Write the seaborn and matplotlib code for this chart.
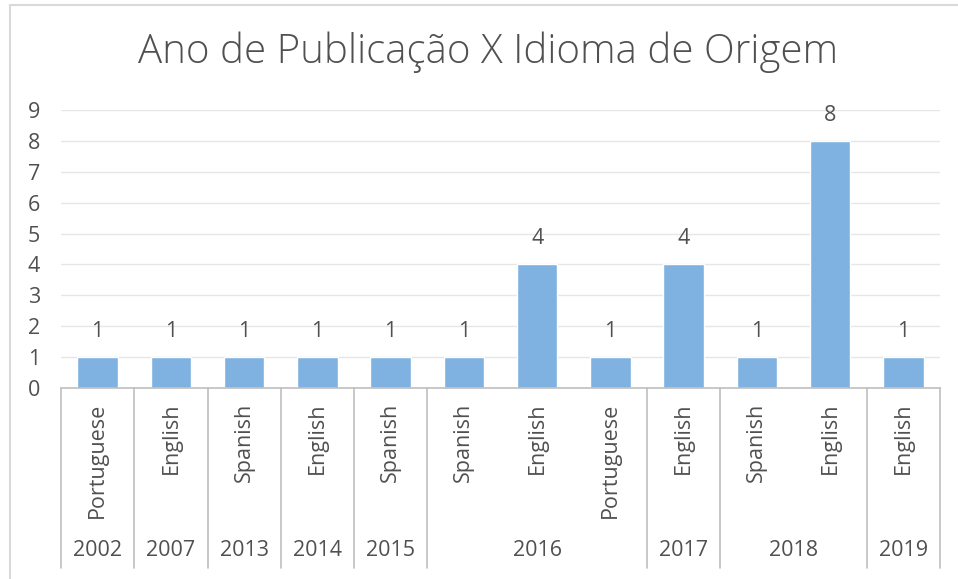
import matplotlib
matplotlib.use("Agg")
import matplotlib.pyplot as plt
import matplotlib.transforms as mtransforms
from matplotlib.lines import Line2D
import seaborn as sns
import pandas as pd

years = ["2002", "2007", "2013", "2014", "2015", "2016", "2016", "2016", "2017", "2018", "2018", "2019"]
languages = ["Portuguese", "English", "Spanish", "English", "Spanish", "Spanish", "English",
             "Portuguese", "English", "Spanish", "English", "English"]
counts = [1, 1, 1, 1, 1, 1, 4, 1, 4, 1, 8, 1]
title = "Ano de Publicação X Idioma de Origem"

sns.set_theme(style="white")
plt.rcParams["font.family"] = ["Open Sans", "DejaVu Sans"]

TXT = "#505050"
GRID = "#E6E6E6"
SEP = "#BFBFBF"
BAR = "#7FB2E0"
FS = 15.5

df = pd.DataFrame({"key": [f"{y}-{l}-{i}" for i, (y, l) in enumerate(zip(years, languages))],
                   "year": years, "lang": languages, "count": counts})

fig = plt.figure(figsize=(9.58, 5.79), dpi=100)
ax = fig.add_axes([61 / 958, 1 - 388 / 579, (940 - 61) / 958, (388 - 110) / 579])

sns.barplot(data=df, x="key", y="count", color=BAR, saturation=1, width=0.55, ax=ax, zorder=2)

ax.set_ylim(0, 9)
ax.set_xlim(-0.5, len(counts) - 0.5)
ax.set_yticks(range(0, 10))
ax.tick_params(axis="y", labelsize=FS, labelcolor=TXT, length=0, pad=15)
ax.set_xticks([])
ax.set_xlabel("")
ax.set_ylabel("")
ax.yaxis.grid(True, color=GRID, linewidth=1, zorder=0)
ax.set_axisbelow(True)
for s in ["top", "right", "left"]:
    ax.spines[s].set_visible(False)
ax.spines["bottom"].set_color(SEP)
ax.spines["bottom"].set_linewidth(1.2)

for c in ax.containers:
    ax.bar_label(c, labels=[str(v) for v in counts], padding=11, fontsize=FS, color=TXT)

# multi-level category axis
trans = mtransforms.blended_transform_factory(ax.transData, ax.transAxes)
ax_h = (388 - 110)
lang_y = -(403 - 388) / ax_h
year_y = -(551 - 388) / ax_h
line_bot = -(568 - 388) / ax_h

for i, lang in enumerate(languages):
    ax.text(i, lang_y, lang, transform=trans, rotation=90, ha="center", va="top",
            fontsize=FS, color=TXT)

# group years
groups = []
start = 0
for i in range(1, len(years) + 1):
    if i == len(years) or years[i] != years[start]:
        groups.append((years[start], start, i - 1))
        start = i
bounds = [-0.5] + [g[2] + 0.5 for g in groups]
for b in bounds:
    ax.add_line(Line2D([b, b], [0, line_bot], transform=trans, color=SEP, linewidth=1.2, clip_on=False))
for y, s, e in groups:
    ax.text((s + e) / 2, year_y, y, transform=trans, ha="center", va="center", fontsize=FS, color=TXT)

fig.suptitle(title, x=488 / 958, y=1 - 52 / 579, va="center", fontsize=29, color=TXT,
             fontweight="light")

# figure border (left/top)
fig.add_artist(Line2D([10 / 958, 10 / 958], [0, 1 - 5 / 579], transform=fig.transFigure, color="#D9D9D9", linewidth=1.5))
fig.add_artist(Line2D([10 / 958, 1], [1 - 5 / 579, 1 - 5 / 579], transform=fig.transFigure, color="#D9D9D9", linewidth=1.5))

fig.savefig("out.png", dpi=100, facecolor="white")
